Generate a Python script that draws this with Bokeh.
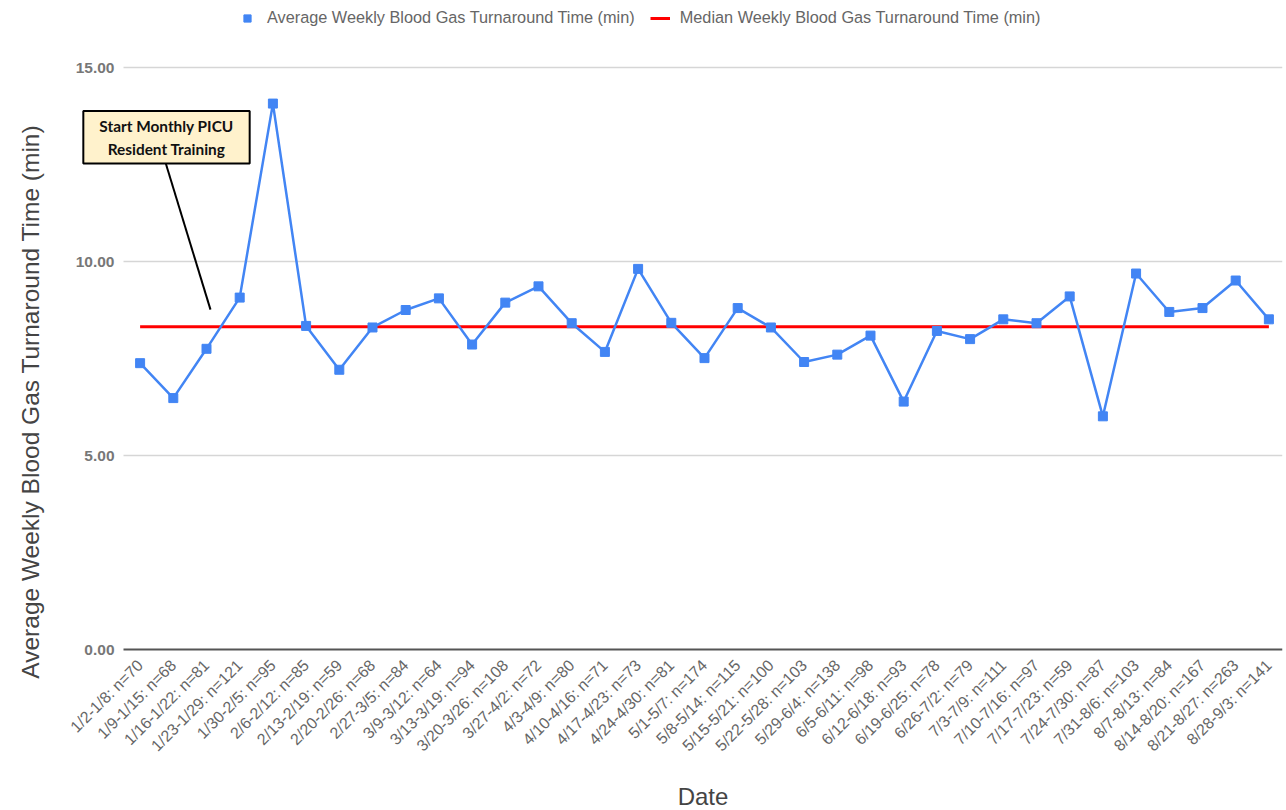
import math
from bokeh.plotting import figure
from bokeh.models import (FixedTicker, NumeralTickFormatter, Legend, LegendItem,
                          Label, ColumnDataSource, Range1d)
from bokeh.core.properties import value
from bokeh.embed import file_html
from bokeh.resources import INLINE

weeks = ["1/2-1/8", "1/9-1/15", "1/16-1/22", "1/23-1/29", "1/30-2/5", "2/6-2/12",
         "2/13-2/19", "2/20-2/26", "2/27-3/5", "3/9-3/12", "3/13-3/19", "3/20-3/26",
         "3/27-4/2", "4/3-4/9", "4/10-4/16", "4/17-4/23", "4/24-4/30", "5/1-5/7",
         "5/8-5/14", "5/15-5/21", "5/22-5/28", "5/29-6/4", "6/5-6/11", "6/12-6/18",
         "6/19-6/25", "6/26-7/2", "7/3-7/9", "7/10-7/16", "7/17-7/23", "7/24-7/30",
         "7/31-8/6", "8/7-8/13", "8/14-8/20", "8/21-8/27", "8/28-9/3"]
n_counts = [70, 68, 81, 121, 95, 85, 59, 68, 84, 64, 94, 108, 72, 80, 71, 73, 81, 174,
            115, 100, 103, 138, 98, 93, 78, 79, 111, 97, 59, 87, 103, 84, 167, 263, 141]
avg_tat = [7.38, 6.48, 7.75, 9.07, 14.07, 8.34, 7.21, 8.30, 8.75, 9.05, 7.86, 8.94,
           9.36, 8.41, 7.67, 9.81, 8.42, 7.51, 8.80, 8.30, 7.41, 7.60, 8.09, 6.39,
           8.21, 8.00, 8.51, 8.41, 9.10, 6.01, 9.69, 8.70, 8.80, 9.51, 8.51]
median_tat = 8.32
tick_labels = [f"{w}: n={n}" for w, n in zip(weeks, n_counts)]
y_ticks = [0, 5, 10, 15]

# view extents (data units)
X_START, X_END = -4.205, 34.41
Y_START, Y_END = -4.149, 16.727
PLOT_LEFT = -0.5

# annotation placement (data coordinates)
ANN_TEXT = "Start Monthly PICU\nResident Training"
ANN_POS = (0.795, 13.20)
ANN_LINE = ((0.765, 12.55), (2.12, 8.76))
YTITLE_POS = (-3.30, 6.39)

xs = list(range(len(avg_tat)))
src = ColumnDataSource(dict(x=xs, y=avg_tat))
med_src = ColumnDataSource(dict(x=[xs[0], xs[-1]], y=[median_tat, median_tat]))

p = figure(width=1286, height=810, output_backend="svg", toolbar_location=None,
           x_range=Range1d(X_START, X_END), y_range=Range1d(Y_START, Y_END),
           min_border_left=0, min_border_right=4, min_border_bottom=0,
           min_border_top=0)
p.outline_line_color = None
p.background_fill_color = "white"
p.border_fill_color = "white"

# gridlines (start at the plot's left edge)
p.segment(x0=[PLOT_LEFT] * 3, x1=[X_END] * 3, y0=y_ticks[1:], y1=y_ticks[1:],
          line_color="#d6d6d6", line_width=1.5)

blue = "#4285F4"
med = p.line("x", "y", source=med_src, line_color="#FF0000", line_width=3)
ln = p.line("x", "y", source=src, line_color=blue, line_width=2.5)
sq = p.scatter("x", "y", source=src, marker="square", size=9, fill_color=blue,
               line_color=blue)

# axes
p.xaxis.fixed_location = 0
p.xaxis.ticker = FixedTicker(ticks=xs)
p.xaxis.bounds = (PLOT_LEFT, X_END)
p.xaxis.major_label_overrides = {i: t for i, t in enumerate(tick_labels)}
p.xaxis.major_label_orientation = math.pi / 4
p.xaxis.major_label_text_font = "Liberation Sans"
p.xaxis.major_label_text_font_size = "16px"
p.xaxis.major_label_text_color = "#666666"
p.xaxis.major_label_standoff = 7
p.xaxis.major_tick_line_color = None
p.xaxis.minor_tick_line_color = None
p.xaxis.axis_line_color = "#555555"
p.xaxis.axis_line_width = 2
p.xaxis.axis_label = "Date"
p.xaxis.axis_label_text_font = "Liberation Sans"
p.xaxis.axis_label_text_font_size = "24px"
p.xaxis.axis_label_text_font_style = "normal"
p.xaxis.axis_label_text_color = "#444444"
p.xaxis.axis_label_standoff = 20

p.yaxis.fixed_location = PLOT_LEFT
p.yaxis.ticker = FixedTicker(ticks=y_ticks)
p.yaxis.formatter = NumeralTickFormatter(format="0.00")
p.yaxis.major_label_text_font = "Liberation Sans"
p.yaxis.major_label_text_font_size = "15.5px"
p.yaxis.major_label_text_font_style = "bold"
p.yaxis.major_label_text_color = "#777777"
p.yaxis.major_label_standoff = 3
p.yaxis.major_tick_line_color = None
p.yaxis.minor_tick_line_color = None
p.yaxis.axis_line_color = None

p.xgrid.grid_line_color = None
p.ygrid.grid_line_color = None

# y title
p.text(x=[YTITLE_POS[0]], y=[YTITLE_POS[1]],
       text=["Average Weekly Blood Gas Turnaround Time (min)"],
       angle=math.pi / 2, text_align="center", text_baseline="middle",
       text_font=value("Liberation Sans"), text_font_size="24.5px", text_color="#444444")

# annotation
p.segment(x0=[ANN_LINE[0][0]], y0=[ANN_LINE[0][1]], x1=[ANN_LINE[1][0]], y1=[ANN_LINE[1][1]],
          line_color="black", line_width=2)
ann = Label(x=ANN_POS[0], y=ANN_POS[1], text=ANN_TEXT, text_align="center",
            text_baseline="middle", text_font="Lato", text_font_size="15.4px",
            text_font_style="bold", text_color="#111111", text_line_height=1.25,
            background_fill_color="#FFF2CC", border_line_color="black",
            border_line_width=2, padding=(16, 6))
p.add_layout(ann)

legend = Legend(items=[LegendItem(label="Average Weekly Blood Gas Turnaround Time (min)", renderers=[sq]),
                       LegendItem(label="Median Weekly Blood Gas Turnaround Time (min)", renderers=[med])],
                orientation="horizontal", location=(237, 783),
                label_text_font="Liberation Sans", label_text_font_size="16.3px",
                label_text_color="#666666", border_line_color=None,
                background_fill_alpha=0, glyph_width=20, glyph_height=18,
                label_height=18, label_standoff=10, padding=5, margin=0, spacing=15)
p.add_layout(legend)

open("out.html", "w").write(file_html(p, INLINE))
